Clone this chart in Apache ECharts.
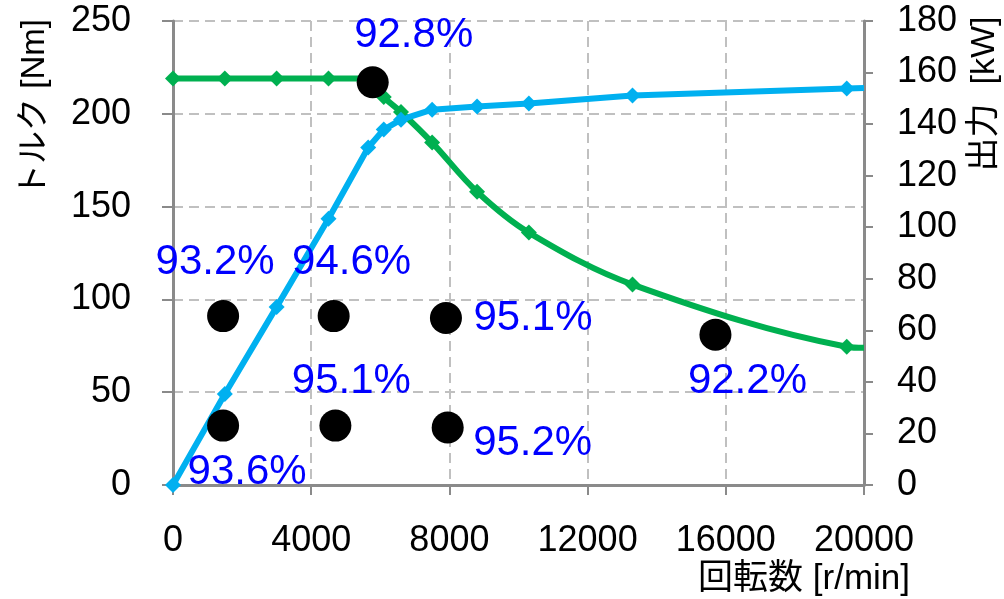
<!DOCTYPE html>
<html>
<head>
<meta charset="utf-8">
<script src="https://cdn.jsdelivr.net/npm/echarts@6/dist/echarts.min.js"></script>
<style>
    html, body { margin: 0; padding: 0; background: #fff; }
    #chart { width: 1004px; height: 599px; }
</style>
</head>
<body>
<div id="chart"></div>
<script>
// motor curve: speed [r/min], torque [Nm], power [kW]
var rpm    = [0, 1500, 3000, 4500, 5650, 6100, 6600, 7500, 8800, 10300, 13300, 19500, 20000];
var torque = [219, 219, 219, 219, 219, 209, 201, 184.5, 158, 136, 108, 74.5, 73.9];
var power  = [0, 35.3, 69.1, 103.3, 130.9, 137.9, 141.7, 145.6, 146.8, 148.0, 151.1, 153.8, 154.0];

// efficiency points
var effRpm    = [1450, 4650, 7900, 1450, 4700, 7950, 15700, 5780];
var effTorque = [91, 91, 90, 32, 32, 31, 81, 217];
var effLabels = ['93.2%', '94.6%', '95.1%', '93.6%', '95.1%', '95.2%', '92.2%', '92.8%'];

// where each label sits relative to its dot
var labelOffsets = [[-8, -54], [18, -54], [87, 0], [24, 47], [16, -44], [85, 16], [32, 47], [41, -47]];

var font = '"Liberation Sans", Arial, "Noto Sans CJK JP", sans-serif';
var axisGray = '#8a8a8a';
var gridLine = { show: true, lineStyle: { color: '#c0c0c0', width: 2, type: [10, 6] } };

function lineData(ys) {
    return rpm.map(function (x, i) {
        var item = { value: [x, ys[i]] };
        if (i === rpm.length - 1) item.symbol = 'none';
        return item;
    });
}

var effData = effRpm.map(function (x, i) {
    return {
        value: [x, effTorque[i]],
        name: effLabels[i],
        label: { offset: labelOffsets[i] }
    };
});

var chart = echarts.init(document.getElementById('chart'));

var option = {
    animation: false,
    textStyle: { fontFamily: font },
    grid: { left: 173, right: 140, top: 21, bottom: 114, containLabel: false },
    xAxis: {
        type: 'value',
        min: 0, max: 20000, interval: 4000,
        axisLine: { show: true, lineStyle: { color: axisGray, width: 3 } },
        axisTick: { show: true, length: 10, lineStyle: { color: axisGray, width: 2 } },
        axisLabel: {
            color: '#000', fontSize: 36, margin: 38, fontFamily: font,
            formatter: function (v) { return String(v); }
        },
        splitLine: gridLine
    },
    yAxis: [
        {
            type: 'value', position: 'left',
            min: 0, max: 250, interval: 50,
            axisLine: { show: true, lineStyle: { color: axisGray, width: 3 } },
            axisTick: { show: true, length: 11, lineStyle: { color: axisGray, width: 2 } },
            axisLabel: { color: '#000', fontSize: 36, margin: 42, fontFamily: font },
            splitLine: gridLine
        },
        {
            type: 'value', position: 'right',
            min: 0, max: 180, interval: 20,
            axisLine: { show: true, lineStyle: { color: axisGray, width: 3 } },
            axisTick: { show: true, length: 9, lineStyle: { color: axisGray, width: 2 } },
            axisLabel: { color: '#000', fontSize: 36, margin: 33, fontFamily: font },
            splitLine: { show: false }
        }
    ],
    graphic: [
        {
            type: 'text', x: 35, y: 108, rotation: Math.PI / 2,
            style: { text: 'トルク [Nm]', fontSize: 33, fontFamily: font, fill: '#000', align: 'center', verticalAlign: 'middle' }
        },
        {
            type: 'text', x: 985, y: 94, rotation: Math.PI / 2,
            style: { text: '出力  [kW]', fontSize: 34, fontFamily: font, fill: '#000', align: 'center', verticalAlign: 'middle' }
        },
        {
            type: 'text', x: 910, y: 579,
            style: { text: '回転数 [r/min]', fontSize: 35, fontFamily: font, fill: '#000', align: 'right', verticalAlign: 'middle' }
        }
    ],
    series: [
        {
            name: 'トルク',
            type: 'line',
            yAxisIndex: 0,
            data: lineData(torque),
            smooth: 0.35,
            symbol: 'diamond',
            symbolSize: 16,
            itemStyle: { color: '#00b050' },
            lineStyle: { color: '#00b050', width: 6 },
            z: 3
        },
        {
            name: '出力',
            type: 'line',
            yAxisIndex: 1,
            data: lineData(power),
            symbol: 'diamond',
            symbolSize: 16,
            itemStyle: { color: '#00b0f0' },
            lineStyle: { color: '#00b0f0', width: 6 },
            z: 3
        },
        {
            name: '効率',
            type: 'scatter',
            yAxisIndex: 0,
            data: effData,
            symbolSize: 32,
            itemStyle: { color: '#000', opacity: 1 },
            label: {
                show: true,
                position: 'inside',
                formatter: '{b}',
                color: '#0000ff',
                fontSize: 42,
                fontFamily: font
            },
            z: 5
        }
    ]
};

chart.setOption(option);
</script>
</body>
</html>
